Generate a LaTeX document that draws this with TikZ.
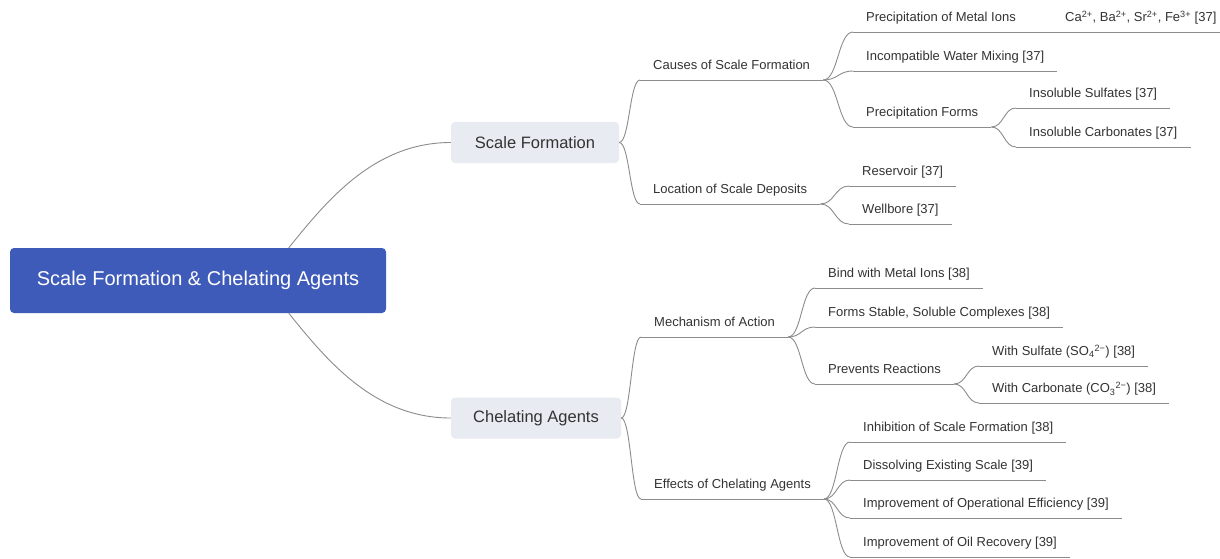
\documentclass[tikz,border=0pt]{standalone}
\usepackage{fontspec}
\setmainfont{Liberation Sans}
\usetikzlibrary{calc}

\definecolor{rootblue}{RGB}{63,91,185}
\definecolor{mainbg}{RGB}{233,235,242}
\definecolor{ink}{RGB}{51,51,51}
\definecolor{linkgray}{RGB}{140,140,140}

% curved connector between two anchors, bending halfway across
\newcommand\linkto[2]{%
  \draw[link] let \p1=(#1), \p2=(#2) in
    (\p1) .. controls ({(\x1+\x2)/2},\y1) and ({(\x1+\x2)/2},\y2) .. (\p2);}

\begin{document}
\begin{tikzpicture}[x=1pt,y=-1pt,
  link/.style={draw=linkgray, line width=0.9pt},
  rootbox/.style={fill=rootblue, rounded corners=4pt, text=white,
    font=\fontsize{20}{24}\selectfont, minimum width=376pt,
    minimum height=65pt, inner sep=0pt},
  mainbox/.style={fill=mainbg, rounded corners=4pt, text=ink,
    font=\fontsize{16.5}{20}\selectfont, minimum height=41pt, inner sep=0pt},
  topic/.style={anchor=south west, text=ink,
    font=\fontsize{13}{15}\selectfont, inner xsep=13pt, inner ysep=0pt,
    text height=10pt, text depth=10pt,
    append after command={(\tikzlastnode.south west) edge[link] (\tikzlastnode.south east)}},
]
\useasboundingbox (0,0) rectangle (1220,558);
\fill[white] (0,0) rectangle (1220,558);

% root and main branches
\node[rootbox] (root) at (198,280.5) {Scale Formation \& Chelating Agents};
\node[mainbox, minimum width=168pt] (sf) at (535,142.5) {Scale Formation};
\node[mainbox, minimum width=170pt] (ca) at (536,418) {Chelating Agents};

\coordinate (rootT) at ($(root.north west)+(279,0)$);
\coordinate (rootB) at ($(root.south west)+(279,0)$);
\draw[link] (rootT) .. controls +(40,-50) and +(-75,0) .. (sf.west);
\draw[link] (rootB) .. controls +(40,50) and +(-75,0) .. (ca.west);

% Scale Formation subtree
\node[topic] (causes) at (640,80) {Causes of Scale Formation};
\node[topic] (loc) at (640,204) {Location of Scale Deposits};
\node[topic] (pmi) at (853,32) {Precipitation of Metal Ions};
\node[topic] (ions) at (1052,32) {Ca\textsuperscript{2+}, Ba\textsuperscript{2+}, Sr\textsuperscript{2+}, Fe\textsuperscript{3+} [37]};
\node[topic] (iwm) at (853,71) {Incompatible Water Mixing [37]};
\node[topic] (pf) at (853,127) {Precipitation Forms};
\node[topic] (sulf) at (1016,108) {Insoluble Sulfates [37]};
\node[topic] (carb) at (1016,147) {Insoluble Carbonates [37]};
\node[topic] (res) at (849,186) {Reservoir [37]};
\node[topic] (well) at (849,224) {Wellbore [37]};

\linkto{sf.east}{causes.south west}
\linkto{sf.east}{loc.south west}
\linkto{causes.south east}{pmi.south west}
\linkto{causes.south east}{iwm.south west}
\linkto{causes.south east}{pf.south west}
\linkto{pmi.south east}{ions.south west}
\linkto{pf.south east}{sulf.south west}
\linkto{pf.south east}{carb.south west}
\linkto{loc.south east}{res.south west}
\linkto{loc.south east}{well.south west}

% Chelating Agents subtree
\node[topic] (mech) at (641,337) {Mechanism of Action};
\node[topic] (eff) at (641,499) {Effects of Chelating Agents};
\node[topic] (bind) at (815,288) {Bind with Metal Ions [38]};
\node[topic] (forms) at (815,327) {Forms Stable, Soluble Complexes [38]};
\node[topic] (prev) at (815,384) {Prevents Reactions};
\node[topic] (withs) at (979,366) {With Sulfate (SO\textsubscript{4}\textsuperscript{2−}) [38]};
\node[topic] (withc) at (979,403) {With Carbonate (CO\textsubscript{3}\textsuperscript{2−}) [38]};
\node[topic] (inh) at (850,442) {Inhibition of Scale Formation [38]};
\node[topic] (dis) at (850,480) {Dissolving Existing Scale [39]};
\node[topic] (ope) at (850,518) {Improvement of Operational Efficiency [39]};
\node[topic] (oil) at (850,557) {Improvement of Oil Recovery [39]};

\linkto{ca.east}{mech.south west}
\linkto{ca.east}{eff.south west}
\linkto{mech.south east}{bind.south west}
\linkto{mech.south east}{forms.south west}
\linkto{mech.south east}{prev.south west}
\linkto{prev.south east}{withs.south west}
\linkto{prev.south east}{withc.south west}
\linkto{eff.south east}{inh.south west}
\linkto{eff.south east}{dis.south west}
\linkto{eff.south east}{ope.south west}
\linkto{eff.south east}{oil.south west}
\end{tikzpicture}
\end{document}
